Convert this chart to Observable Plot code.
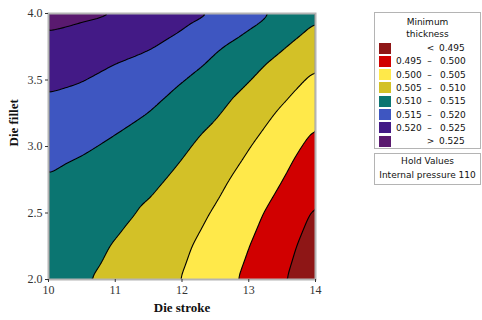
<!DOCTYPE html>
<html><head><meta charset="utf-8">
<script src="https://cdn.jsdelivr.net/npm/d3@7"></script>
<script src="https://cdn.jsdelivr.net/npm/@observablehq/plot@0.6"></script>
<style>
body{margin:0;background:#fff;}
#wrap{position:relative;width:482px;height:320px;overflow:hidden;}
#wrap svg{position:absolute;left:0;top:0;}
.box{position:absolute;box-sizing:border-box;border:1px solid #b4b4b4;background:#fff;font-family:"DejaVu Sans",sans-serif;font-size:9px;color:#111;}
.box .t{position:absolute;left:0;right:0;text-align:center;white-space:nowrap;}
.box .sw{position:absolute;width:12px;height:11px;}
.box .s{position:absolute;white-space:nowrap;line-height:12px;}
</style></head><body><div id="wrap"></div>
<script>
// Die stroke (x) grid and die fillet (y) grid
const strokes = [10, 10.5, 11, 11.5, 12, 12.5, 13, 13.5, 14];
const fillets = [2.0, 2.25, 2.5, 2.75, 3.0, 3.25, 3.5, 3.75, 4.0];
// Minimum thickness, one row per die fillet value
const thick200 = [0.5118, 0.5104, 0.5088, 0.5069, 0.5049, 0.5020, 0.4990, 0.4955, 0.4917];
const thick225 = [0.5127, 0.5115, 0.5097, 0.5077, 0.5058, 0.5031, 0.5001, 0.4966, 0.4929];
const thick250 = [0.5139, 0.5127, 0.5112, 0.5093, 0.5070, 0.5046, 0.5015, 0.4981, 0.4944];
const thick275 = [0.5147, 0.5135, 0.5122, 0.5111, 0.5089, 0.5062, 0.5033, 0.5001, 0.4965];
const thick300 = [0.5166, 0.5156, 0.5143, 0.5125, 0.5107, 0.5082, 0.5052, 0.5020, 0.4986];
const thick325 = [0.5186, 0.5175, 0.5163, 0.5150, 0.5127, 0.5105, 0.5075, 0.5043, 0.5010];
const thick350 = [0.5209, 0.5202, 0.5186, 0.5169, 0.5152, 0.5128, 0.5102, 0.5072, 0.5040];
const thick375 = [0.5236, 0.5225, 0.5215, 0.5204, 0.5183, 0.5156, 0.5130, 0.5104, 0.5074];
const thick400 = [0.5266, 0.5259, 0.5252, 0.5234, 0.5217, 0.5199, 0.5170, 0.5141, 0.5109];
const thickRows = [thick200, thick225, thick250, thick275, thick300, thick325, thick350, thick375, thick400];

// contour levels and band colours (lowest band first)
const levels = [0.495, 0.500, 0.505, 0.510, 0.515, 0.520, 0.525];
const bandColors = ["#8e1616", "#d10000", "#ffe94a", "#d3c127", "#0b7571", "#3e56c1", "#431a86", "#5a1a6f"];
const xTicks = [10, 11, 12, 13, 14];
const yTicks = [2.0, 2.5, 3.0, 3.5, 4.0];
const legendTitle = ["Minimum", "thickness"];
const holdTitle = "Hold Values";
const holdText = "Internal pressure 110";

const points = [];
fillets.forEach((f, j) => strokes.forEach((s, i) => points.push({x: s, y: f, v: thickRows[j][i]})));

const fmt = d3.format(".3f");
const chart = Plot.plot({
  width: 482, height: 320,
  marginLeft: 48, marginRight: 167, marginTop: 13, marginBottom: 41,
  x: {domain: [10, 14]},
  y: {domain: [2, 4]},
  color: {type: "threshold", domain: levels, range: bandColors},
  style: {fontFamily: "Liberation Serif", fontSize: "12px", background: "white", color: "#333"},
  marks: [
    Plot.contour(points, {x: "x", y: "y", fill: "v", interpolate: "barycentric", blur: 2, thresholds: [0.47, ...levels]}),
    Plot.contour(points, {x: "x", y: "y", value: "v", interpolate: "barycentric", blur: 2, thresholds: levels, fill: "none", stroke: "black", strokeWidth: 1.1, clip: true}),
    Plot.frame({stroke: "#b4b4b4", strokeWidth: 2}),
    Plot.axisX({ticks: xTicks, tickSize: 3, tickPadding: 3, label: null, tickFormat: d3.format("d")}),
    Plot.axisY({ticks: yTicks, tickSize: 3, tickPadding: 3, label: null, tickFormat: d3.format(".1f")}),
    Plot.text(["Die stroke"], {frameAnchor: "bottom", dy: 32, fontWeight: "bold", fontSize: 13, fill: "#111"}),
    Plot.text(["Die fillet"], {frameAnchor: "left", dx: -35, rotate: -90, fontWeight: "bold", fontSize: 13, fill: "#111"})
  ]
});
const wrap = document.getElementById("wrap");
wrap.appendChild(chart);

// legend
const box = document.createElement("div");
box.className = "box";
Object.assign(box.style, {left: "374px", top: "12px", width: "107px", height: "137px"});
legendTitle.forEach((t, k) => {
  const d = document.createElement("div");
  d.className = "t"; d.textContent = t;
  d.style.top = (4 + k * 11.6) + "px";
  box.appendChild(d);
});
bandColors.forEach((c, k) => {
  const cy = 35 + k * 13.3;
  const sw = document.createElement("div");
  sw.className = "sw"; sw.style.background = c;
  sw.style.left = "4px"; sw.style.top = (cy - 5.5) + "px";
  box.appendChild(sw);
  const add = (txt, left, center) => {
    const s = document.createElement("span");
    s.className = "s"; s.textContent = txt;
    s.style.top = (cy - 6) + "px";
    if (center) { s.style.left = left + "px"; s.style.transform = "translateX(-50%)"; }
    else s.style.left = left + "px";
    box.appendChild(s);
  };
  if (k === 0) { add("<", 55.5, true); add(fmt(levels[0]), 64); }
  else if (k === bandColors.length - 1) { add(">", 55.5, true); add(fmt(levels[levels.length - 1]), 64); }
  else { add(fmt(levels[k - 1]), 21); add("–", 54.5, true); add(fmt(levels[k]), 65); }
});
wrap.appendChild(box);

const box2 = document.createElement("div");
box2.className = "box";
Object.assign(box2.style, {left: "374px", top: "153px", width: "107px", height: "32px"});
[holdTitle, holdText].forEach((t, k) => {
  const d = document.createElement("div");
  d.className = "t"; d.textContent = t;
  d.style.top = (2 + k * 14) + "px";
  box2.appendChild(d);
});
wrap.appendChild(box2);
</script>
</body></html>
